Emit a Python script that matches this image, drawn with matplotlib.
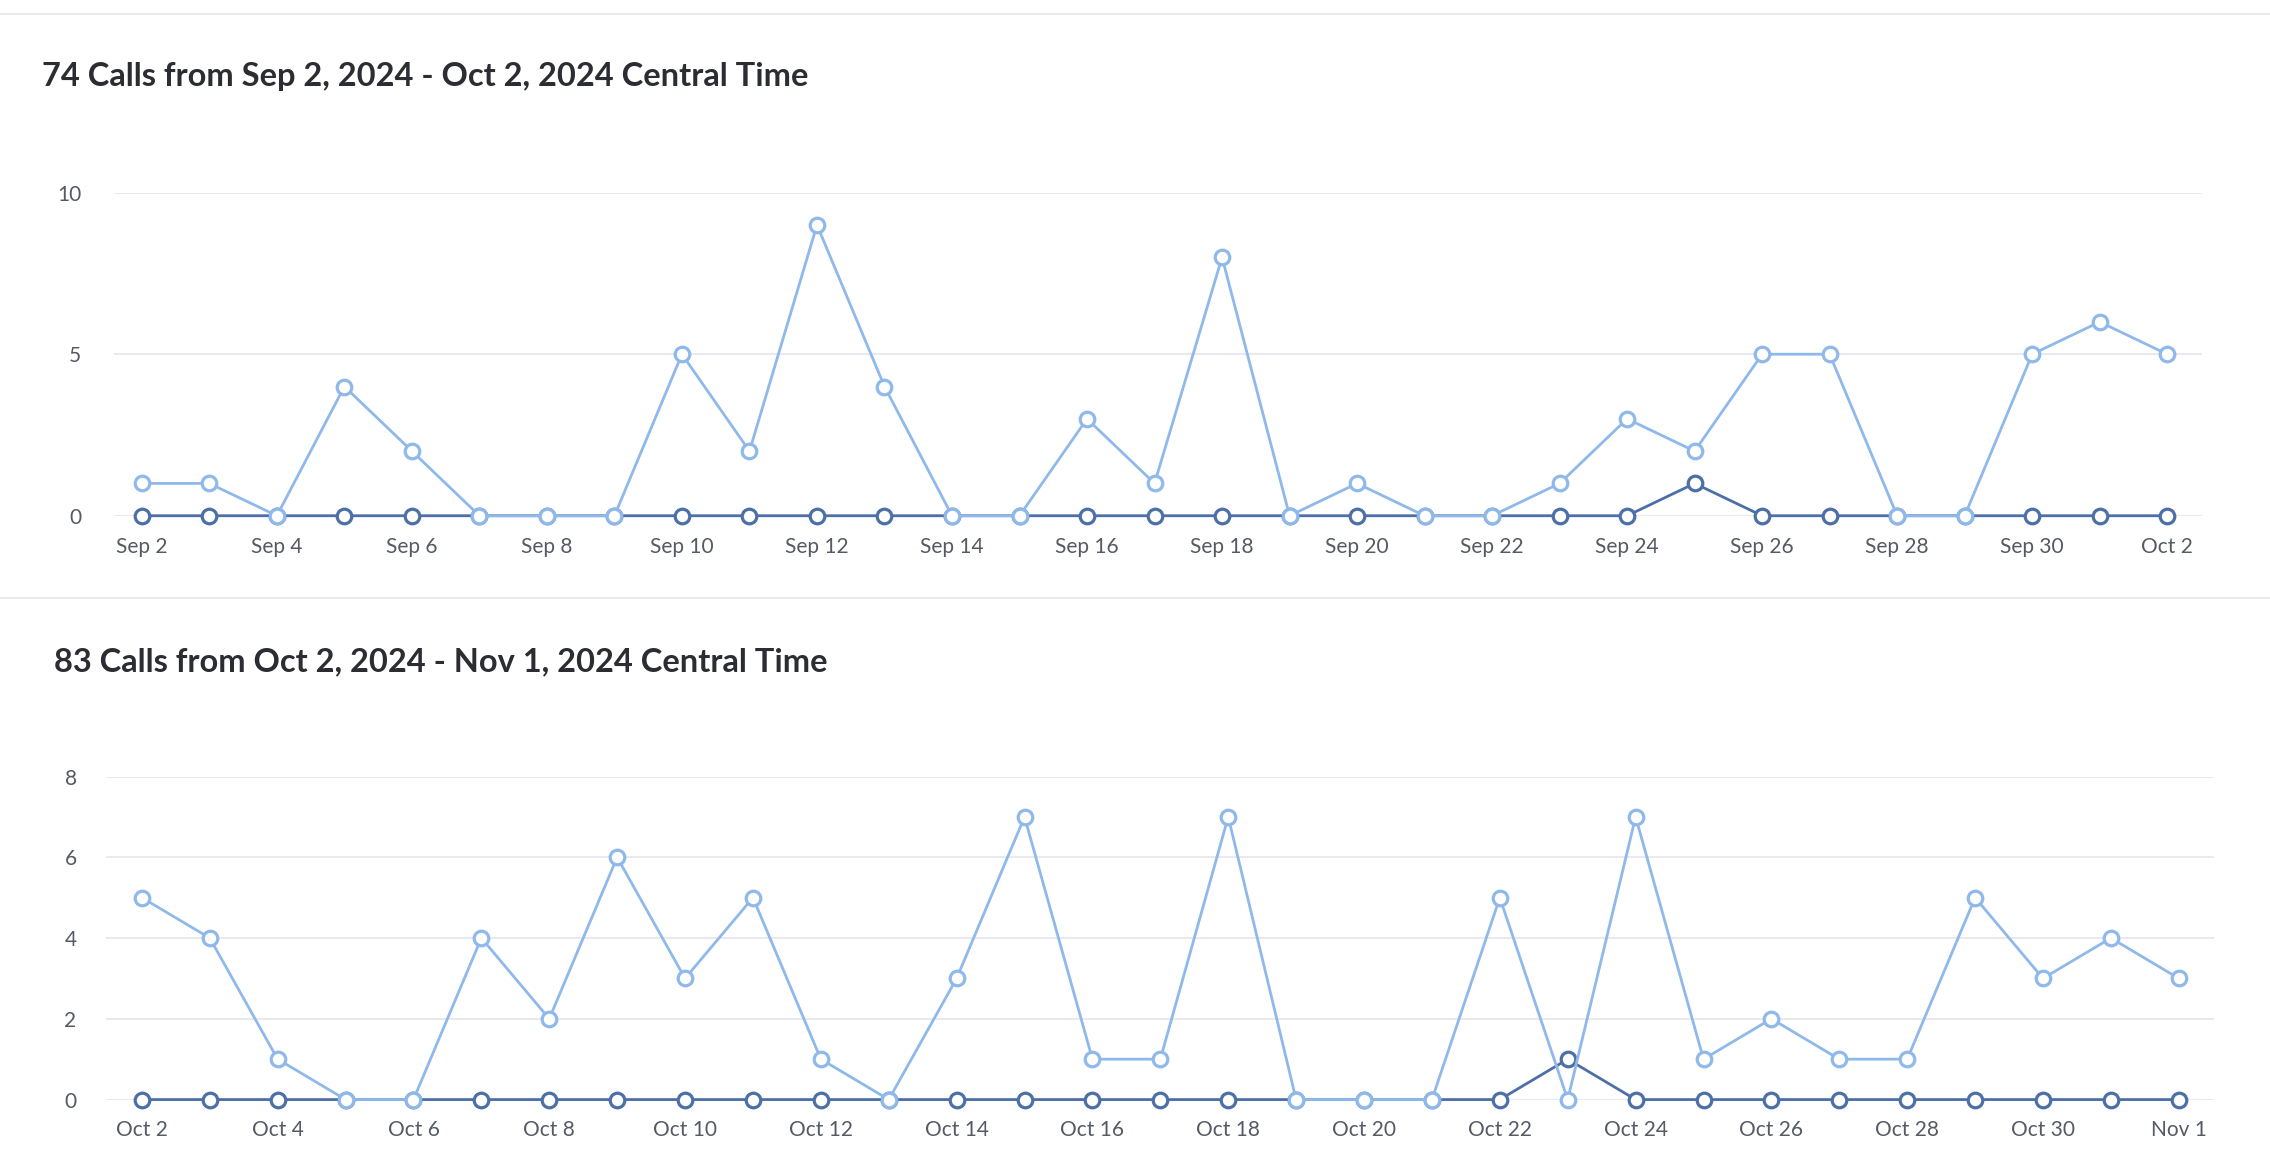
import matplotlib
matplotlib.use("Agg")
import matplotlib.pyplot as plt
from matplotlib.lines import Line2D
import numpy as np
import pandas as pd

plt.rcParams['font.family'] = ['Lato', 'DejaVu Sans']

# data
sep_days = pd.date_range("2024-09-02", "2024-10-02")
sep_all = [1, 1, 0, 4, 2, 0, 0, 0, 5, 2, 9, 4, 0, 0, 3, 1, 8, 0, 1, 0, 0,
           1, 3, 2, 5, 5, 0, 0, 5, 6, 5]
sep_dark = [0] * 23 + [1] + [0] * 7

oct_days = pd.date_range("2024-10-02", "2024-11-01")
oct_all = [5, 4, 1, 0, 0, 4, 2, 6, 3, 5, 1, 0, 3, 7, 1, 1, 7, 0, 0, 0, 5,
           0, 7, 1, 2, 1, 1, 5, 3, 4, 3]
oct_dark = [0] * 21 + [1] + [0] * 9

titles = ["74 Calls from Sep 2, 2024 - Oct 2, 2024 Central Time",
          "83 Calls from Oct 2, 2024 - Nov 1, 2024 Central Time"]

light = "#8fb9ea"
dark = "#4b6fa6"
grid = "#e9e9ef"
W, H = 1568.0, 809.0

fig = plt.figure(figsize=(22.7, 11.72), dpi=100)


def panel(rect, days, allv, darkv, yticks, title, title_xy, ypad):
    ax = fig.add_axes(rect)
    x = np.arange(len(days))
    for v in yticks:
        ax.axhline(v, color=grid, lw=1.5, zorder=0)
    ax.plot(x, darkv, color=dark, lw=2, marker='o', ms=10.5, mfc='white',
            mec=dark, mew=2.3, clip_on=False, zorder=2)
    ax.plot(x, allv, color=light, lw=2, marker='o', ms=10.5, mfc='white',
            mec=light, mew=2.3, clip_on=False, zorder=3)
    ax.set_xticks(x[::2])
    ax.set_xticklabels([d.strftime("%b ") + str(d.day) for d in days[::2]])
    ax.set_yticks(yticks)
    ax.set_yticklabels([str(v) for v in yticks])
    ax.tick_params(length=0, labelsize=15, colors="#555a63")
    ax.tick_params(axis='x', pad=15)
    ax.tick_params(axis='y', pad=ypad)
    for s in ax.spines.values():
        s.set_visible(False)
    ax.set_ylim(0, yticks[-1])
    fig.text(title_xy[0] / W, 1 - title_xy[1] / H, title, fontsize=23.5,
             fontweight='bold', color="#2b2d33", va='center', ha='left')
    return ax


# top panel
l, r = 79 / W, 1521 / W
ax1 = panel([l, 1 - 356 / H, r - l, (356 - 133) / H], sep_days, sep_all,
            sep_dark, [0, 5, 10], titles[0], (29, 53), 24)
ppu = (1497 - 98) / 30
ax1.set_xlim(-(98 - 79) / ppu, 30 + (1521 - 1497) / ppu)

# bottom panel
l, r = 73 / W, 1529 / W
ax2 = panel([l, 1 - 759 / H, r - l, (759 - 536) / H], oct_days, oct_all,
            oct_dark, [0, 2, 4, 6, 8], titles[1], (37, 457), 21)
ppu = (1505 - 98) / 30
ax2.set_xlim(-(98 - 73) / ppu, 30 + (1529 - 1505) / ppu)

# separators
for yy in (10, 413):
    fig.add_artist(Line2D([0, 1], [1 - yy / H, 1 - yy / H], color=grid,
                          lw=1.5, transform=fig.transFigure))

fig.savefig("out.png", dpi=100, facecolor="white")
